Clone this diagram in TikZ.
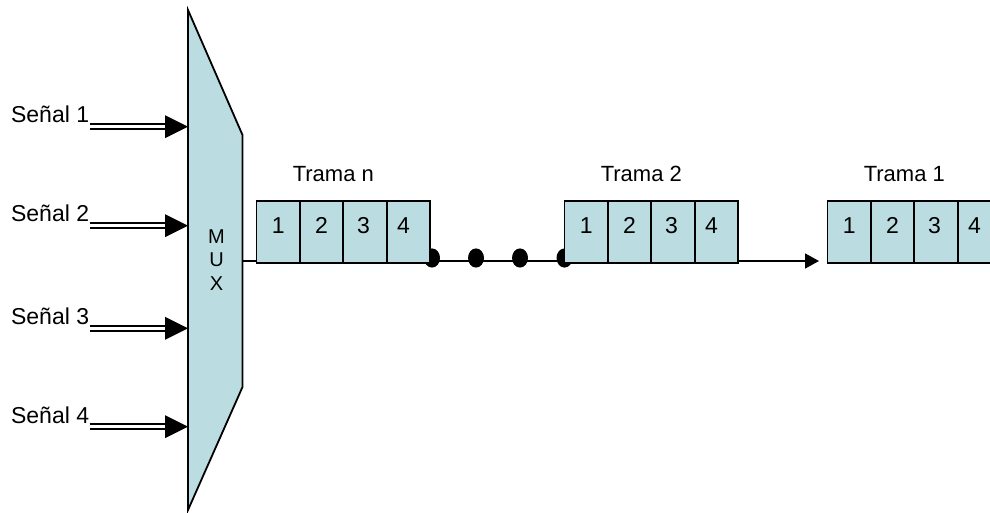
\documentclass[tikz,border=0pt]{standalone}
\usepackage{fontspec}
\setmainfont{Liberation Sans}
\usetikzlibrary{arrows.meta,shapes.geometric}
\definecolor{boxfill}{RGB}{187,221,225}
\begin{document}
\begin{tikzpicture}[x=0.5pt,y=-0.5pt,
  lab/.style={inner sep=0pt,font=\fontsize{11}{13}\selectfont},
  biglab/.style={inner sep=0pt,font=\fontsize{11.5}{13}\selectfont},
  muxlab/.style={inner sep=0pt,font=\fontsize{10}{12}\selectfont},
  sigline/.style={double, double distance=1.6pt, line width=1pt, shorten >=11.5pt},
  cell/.style={draw=black, line width=0.9pt, fill=boxfill, minimum width=21.67pt, minimum height=31pt, inner sep=0pt, outer sep=0pt},
  dotm/.style={fill=black, ellipse, minimum width=8pt, minimum height=9.6pt, inner sep=0pt},
  mainline/.style={line width=0.85pt, -{Triangle[length=7pt,width=7.5pt]}}
]
\useasboundingbox (0,0) rectangle (990,513);
\clip (0,0) rectangle (990,513);

% MUX
\draw[fill=boxfill, line width=0.9pt] (188,10) -- (242.5,135) -- (242.5,387) -- (188,510) -- cycle;
\node[muxlab, anchor=base] (mxM) at (216.5,244) {M};
\node[muxlab, anchor=base] (mxU) at (216.5,267) {U};
\node[muxlab, anchor=base] (mxX) at (216.5,291) {X};

% input signals
\foreach \i/\y in {1/126.7, 2/225.7, 3/328.3, 4/426.7} {
  \coordinate (m\i) at (188,\y);
  \node[biglab, anchor=base east] (s\i) at (89.5,\y-3.7) {Señal \i};
  \draw[sigline] (s\i.east |- m\i) -- (m\i);
  \fill (m\i) -- ++(-23,-11.5) -- ++(0,23) -- cycle;
}

% output line
\coordinate (mo) at (242.5,261);
\coordinate (tip) at (819,261);
\draw[mainline] (mo) -- (tip);

% dots
\node[dotm] (d1) at (432,258) {};
\node[dotm] (d2) at (476,258) {};
\node[dotm] (d3) at (520,258) {};
\node[dotm] (d4) at (564.5,258) {};

% frames
\foreach \bx/\nm/\lbl in {256.5/n/Trama n, 564.5/b/Trama 2, 827.5/a/Trama 1} {
  \foreach \k/\dx in {1/0, 2/0, 3/-1.5, 4/-5} {
    \node[cell, anchor=north west] (\nm c\k) at ({\bx+(\k-1)*43.4},201) {};
    \node[biglab, anchor=base] (\nm t\k) at ({\bx+(\k-1)*43.4+21.7+\dx},233.3) {\k};
  }
  \node[lab, anchor=base] (\nm lab) at ({\bx+86.8-10},181.7) {\lbl};
}
\end{tikzpicture}
\end{document}
